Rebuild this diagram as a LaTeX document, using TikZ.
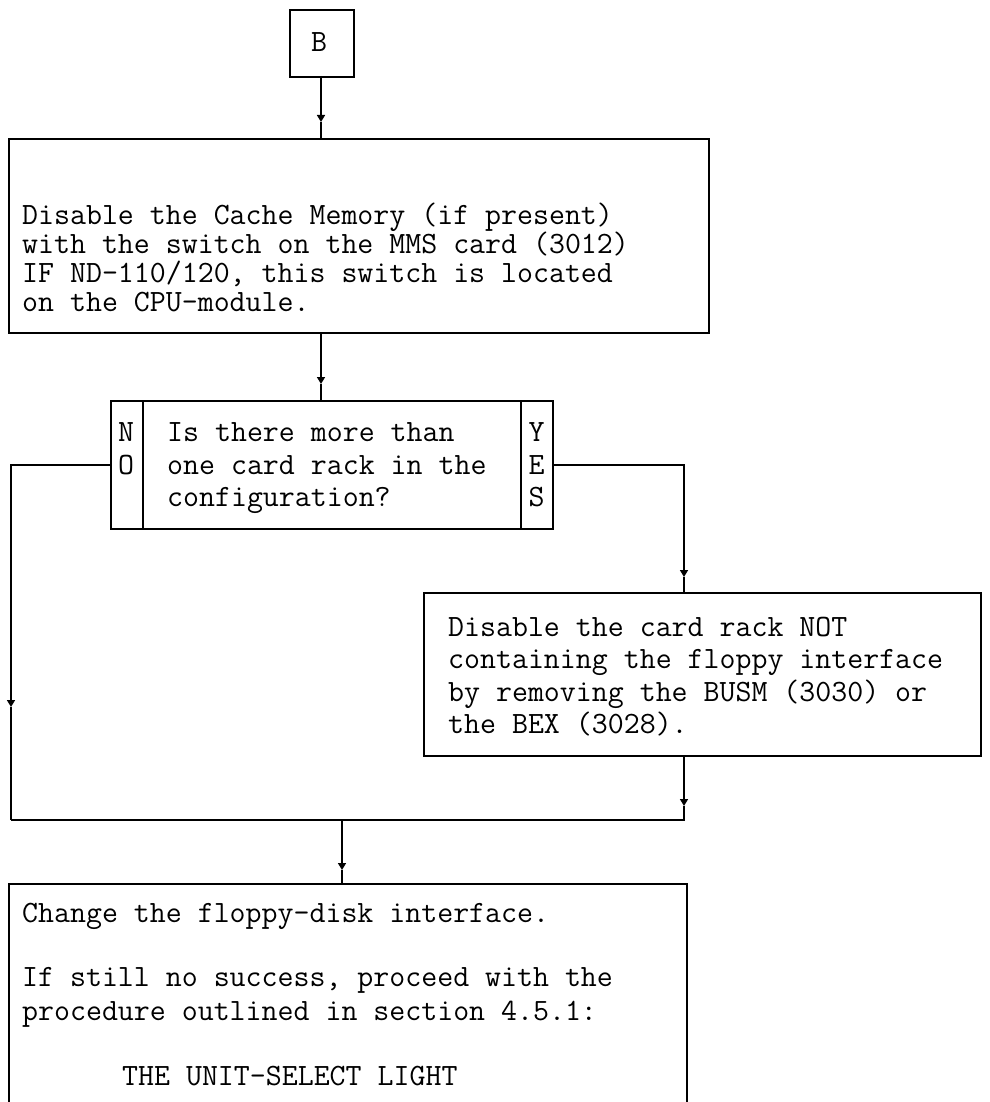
\documentclass[tikz,border=0pt]{standalone}
\usetikzlibrary{arrows.meta}
\newcommand\tx{\fontsize{31}{33}\selectfont\ttfamily}
\begin{document}
\begin{tikzpicture}[x=1pt,y=-1pt,
  box/.style={draw, line width=2pt, inner sep=0pt, anchor=north west},
  txt/.style={anchor=base west, inner sep=0pt, font=\tx},
  ctxt/.style={anchor=base, inner sep=0pt, font=\tx},
  conn/.style={line width=1.6pt},
  flow/.style={line width=1.6pt, -{Triangle[width=8pt,length=7pt]}}]
\useasboundingbox (0,0) rectangle (989,1102);
\clip (0,0) rectangle (989,1102);
\fill[white] (0,0) rectangle (989,1102);

% B
\node[box, minimum width=64pt, minimum height=67pt] (B) at (289,9) {};
\node[ctxt] (Bt) at (319,52) {B};

% box 1
\node[box, minimum width=700pt, minimum height=194pt] (box1) at (8,138) {};
\node[txt] (t1a) at (22,224) {Disable the Cache Memory (if present)};
\node[txt] (t1b) at (22,253) {with the switch on the MMS card (3012)};
\node[txt] (t1c) at (22,282) {IF ND-110/120, this switch is located};
\node[txt] (t1d) at (22,311) {on the CPU-module.};

% decision
\node[box, minimum width=442pt, minimum height=128pt] (dec) at (110,400) {};
\draw[conn, line width=1.8pt] (143,400) -- (143,528) (521,400) -- (521,528);
\node[ctxt] (n1) at (126,441.5) {N};
\node[ctxt] (n2) at (126,474.5) {O};
\node[ctxt] (y1) at (536.5,441.5) {Y};
\node[ctxt] (y2) at (536.5,474.5) {E};
\node[ctxt] (y3) at (536.5,506.5) {S};
\node[txt] (q1) at (167,441.5) {Is there more than};
\node[txt] (q2) at (167,474.5) {one card rack in the};
\node[txt] (q3) at (167,506.5) {configuration?};

% disable box
\node[box, minimum width=557pt, minimum height=163pt] (dis) at (423,592) {};
\node[txt] (d1) at (448,636) {Disable the card rack NOT};
\node[txt] (d2) at (448,668) {containing the floppy interface};
\node[txt] (d3) at (448,701) {by removing the BUSM (3030) or};
\node[txt] (d4) at (448,733) {the BEX (3028).};

% bottom box
\node[box, minimum width=678pt, minimum height=260pt] (fin) at (8,883) {};
\node[txt] (f1) at (22,922) {Change the floppy-disk interface.};
\node[txt] (f2) at (22,986) {If still no success, proceed with the};
\node[txt] (f3) at (22,1020) {procedure outlined in section 4.5.1:};
\node[txt] (f4) at (122,1085) {THE UNIT-SELECT LIGHT};

% connectors
\coordinate (a1) at (321,122);
\draw[flow] (321,76) -- (a1);
\draw[conn] (a1) -- (321,138);

\coordinate (a2) at (321,384);
\draw[flow] (321,332) -- (a2);
\draw[conn] (a2) -- (321,400);

\coordinate (nl) at (11,465);
\coordinate (a3) at (11,707);
\coordinate (jl) at (11,820);
\draw[flow] (dec.west |- nl) -- (nl) -- (a3);
\draw[conn] (a3) -- (jl);

\coordinate (yr) at (684,465);
\coordinate (a4) at (684,577);
\draw[flow] (dec.east |- yr) -- (yr) -- (a4);
\draw[conn] (a4) -- (dis.north -| yr);

\coordinate (a5) at (684,806);
\coordinate (jr) at (684,820);
\draw[flow] (dis.south -| yr) -- (a5);
\draw[conn] (a5) -- (jr) -- (jl);

\coordinate (jm) at (342,820);
\coordinate (a6) at (342,870);
\draw[flow] (jm) -- (a6);
\draw[conn] (a6) -- (fin.north -| jm);
\end{tikzpicture}
\end{document}
